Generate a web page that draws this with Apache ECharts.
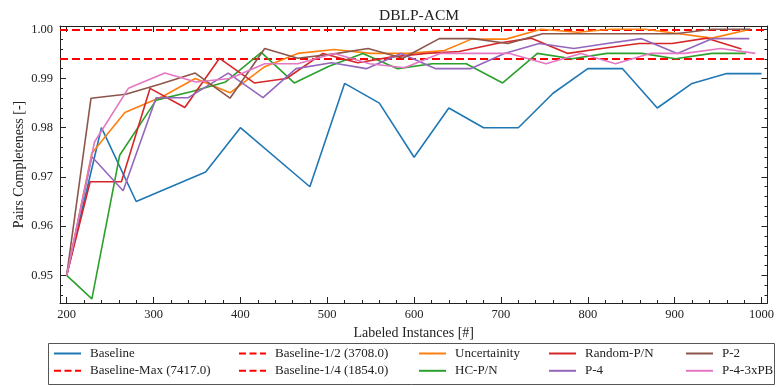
<!DOCTYPE html>
<html>
<head>
<meta charset="utf-8">
<script src="https://cdn.jsdelivr.net/npm/echarts@6/dist/echarts.min.js"></script>
<style>
  html, body { margin: 0; padding: 0; background: #fff; }
  #chart { width: 777px; height: 387px; }
</style>
</head>
<body>
<div id="chart"></div>
<script>
// ---- data ----
var baseX = [200, 240, 280, 360, 400, 480, 520, 560, 600, 640, 680, 720, 760, 800, 840, 880, 920, 960, 1000];
var baseY = [0.950, 0.980, 0.965, 0.971, 0.980, 0.968, 0.989, 0.985, 0.974, 0.984, 0.980, 0.980, 0.987, 0.992, 0.992, 0.984, 0.989, 0.991, 0.991];

var uncX = [200, 229, 267, 311, 348, 388, 428, 466, 508, 550, 593, 635, 666, 706, 746, 788, 826, 866, 905, 943, 987];
var uncY = [0.950, 0.9748, 0.9831, 0.9864, 0.990, 0.9871, 0.9924, 0.9951, 0.9959, 0.9951, 0.9951, 0.9957, 0.998, 0.998, 1.000, 0.9994, 1.000, 1.000, 0.9991, 0.9982, 1.000];

var hcX = [200, 229, 261, 303, 343, 383, 424, 462, 502, 541, 581, 621, 660, 702, 742, 782, 822, 862, 901, 943, 982];
var hcY = [0.950, 0.9452, 0.9744, 0.9856, 0.9873, 0.9893, 0.9953, 0.9891, 0.9925, 0.9951, 0.992, 0.993, 0.993, 0.9891, 0.9951, 0.994, 0.9951, 0.9951, 0.994, 0.9951, 0.9951];

var rndX = [200, 227, 263, 296, 336, 376, 416, 453, 495, 535, 575, 614, 652, 698, 735, 777, 816, 859, 897, 937, 977];
var rndY = [0.950, 0.969, 0.969, 0.988, 0.9841, 0.9941, 0.9891, 0.990, 0.9951, 0.9932, 0.9944, 0.9951, 0.9955, 0.9972, 0.9982, 0.9951, 0.9961, 0.9971, 0.9971, 0.9982, 0.996];

var p4X = [200, 229, 265, 303, 340, 386, 426, 464, 505, 545, 585, 625, 665, 704, 744, 784, 822, 862, 903, 943, 986];
var p4Y = [0.950, 0.9741, 0.9672, 0.9861, 0.9861, 0.9911, 0.9861, 0.992, 0.9932, 0.992, 0.9951, 0.992, 0.992, 0.9951, 0.9971, 0.9961, 0.9971, 0.9981, 0.9951, 0.9981, 0.9981];

var p2X = [200, 228, 268, 308, 348, 388, 428, 466, 508, 547, 587, 629, 668, 708, 748, 901, 943, 987];
var p2Y = [0.950, 0.986, 0.9868, 0.9889, 0.9911, 0.986, 0.9961, 0.9941, 0.995, 0.9961, 0.9941, 0.9981, 0.9981, 0.9971, 0.9991, 0.9991, 1.000, 1.000];

var pbX = [200, 232, 271, 313, 349, 388, 428, 466, 508, 549, 589, 630, 670, 710, 752, 792, 832, 872, 912, 953, 993];
var pbY = [0.950, 0.9771, 0.988, 0.9911, 0.9893, 0.990, 0.993, 0.993, 0.9951, 0.993, 0.9922, 0.9951, 0.9951, 0.9951, 0.993, 0.9951, 0.993, 0.9951, 0.9951, 0.9961, 0.9951];

// horizontal reference levels
var baseMax = 1.000;
var baseHalf = 1.000;
var baseQuarter = 0.994;

// ticks
var xMajor = [200, 300, 400, 500, 600, 700, 800, 900, 1000];
var yMajor = [0.95, 0.96, 0.97, 0.98, 0.99, 1.00];
var xMinor = [];
for (var v = 200; v <= 1000; v += 20) xMinor.push(v);
var yMinor = [];
for (var k = 473; k <= 500; k++) yMinor.push(k / 500);

var FONT = 'Liberation Serif';
var INK = '#222';

function curve(name, xs, ys, color) {
    return {
        name: name,
        type: 'line',
        xAxisIndex: 0,
        yAxisIndex: 0,
        data: xs.map(function (x, i) { return [x, ys[i]]; }),
        symbol: 'none',
        lineStyle: { color: color, width: 1.6 },
        itemStyle: { color: color }
    };
}

function level(name, val) {
    return {
        name: name,
        type: 'line',
        xAxisIndex: 0,
        yAxisIndex: 0,
        data: [],
        symbol: 'none',
        lineStyle: { color: '#ff0000', width: 2, type: [7, 3.5] },
        itemStyle: { color: '#ff0000' },
        markLine: {
            silent: true,
            z: 1,
            precision: 4,
            symbol: 'none',
            label: { show: false },
            lineStyle: { color: '#ff0000', width: 2, type: [8, 4] },
            data: [{ yAxis: val }]
        }
    };
}

function xAx(pos, ticks, len, line, labels) {
    return {
        type: 'value', position: pos, min: 192.3, max: 1006.9,
        splitLine: { show: false },
        axisLine: { show: line, lineStyle: { color: INK, width: 1 } },
        axisTick: { show: true, inside: true, length: len, customValues: ticks, lineStyle: { color: INK, width: 1 } },
        axisLabel: labels ? {
            customValues: xMajor, margin: 5, fontFamily: FONT, fontSize: 12.5, color: INK,
            formatter: function (val) { return String(val); }
        } : { show: false }
    };
}

function yAx(pos, ticks, len, line, labels) {
    return {
        type: 'value', position: pos, min: 0.94437, max: 1.00067,
        splitLine: { show: false },
        axisLine: { show: line, lineStyle: { color: INK, width: 1 } },
        axisTick: { show: true, inside: true, length: len, customValues: ticks, lineStyle: { color: INK, width: 1 } },
        axisLabel: labels ? {
            customValues: yMajor, margin: 7, fontFamily: FONT, fontSize: 12.5, color: INK,
            formatter: function (val) { return val.toFixed(2); }
        } : { show: false }
    };
}

var legendCols = [
    ['Baseline', 'Baseline-Max (7417.0)'],
    ['Baseline-1/2 (3708.0)', 'Baseline-1/4 (1854.0)'],
    ['Uncertainity', 'HC-P/N'],
    ['Random-P/N', 'P-4'],
    ['P-2', 'P-4-3xPB']
];
var legendLeft = [53, 238, 418, 548, 685];

var chart = echarts.init(document.getElementById('chart'));

var bottomX = xAx('bottom', xMajor, 6, true, true);
bottomX.name = 'Labeled Instances [#]';
bottomX.nameLocation = 'middle';
bottomX.nameGap = 21;
bottomX.nameTextStyle = { fontFamily: FONT, fontSize: 14, color: INK };

var leftY = yAx('left', yMajor, 6, true, true);
leftY.name = 'Pairs Completeness [-]';
leftY.nameLocation = 'middle';
leftY.nameGap = 34;
leftY.nameMoveOverlap = false;
leftY.nameTextStyle = { fontFamily: FONT, fontSize: 14, color: INK };

var option = {
    animation: false,
    backgroundColor: '#fff',
    title: {
        text: 'DBLP-ACM',
        left: 374,
        top: 3,
        textStyle: { fontFamily: FONT, fontSize: 15.5, fontWeight: 'normal', color: INK }
    },
    grid: { left: 60, right: 8, top: 26, height: 277 },
    legend: legendCols.map(function (col, i) {
        return {
            data: col,
            orient: 'vertical',
            left: legendLeft[i],
            top: 347,
            padding: 0,
            itemWidth: 27,
            itemHeight: 14,
            itemGap: 4.3,
            selectedMode: false,
            itemStyle: { opacity: 0 },
            textStyle: { fontFamily: FONT, fontSize: 13, color: INK, padding: [0, 0, 0, 4] }
        };
    }),
    graphic: [{
        type: 'rect',
        shape: { x: 48.5, y: 343.5, width: 726, height: 41 },
        style: { fill: 'none', stroke: '#555', lineWidth: 1 }
    }],
    xAxis: [
        bottomX,
        xAx('bottom', xMinor, 3, false, false),
        xAx('top', xMajor, 6, true, false),
        xAx('top', xMinor, 3, false, false)
    ],
    yAxis: [
        leftY,
        yAx('left', yMinor, 3, false, false),
        yAx('right', yMajor, 6, true, false),
        yAx('right', yMinor, 3, false, false)
    ],
    series: [
        curve('Baseline', baseX, baseY, '#1f77b4'),
        level('Baseline-Max (7417.0)', baseMax),
        level('Baseline-1/2 (3708.0)', baseHalf),
        level('Baseline-1/4 (1854.0)', baseQuarter),
        curve('Uncertainity', uncX, uncY, '#ff7f0e'),
        curve('HC-P/N', hcX, hcY, '#2ca02c'),
        curve('Random-P/N', rndX, rndY, '#d62728'),
        curve('P-4', p4X, p4Y, '#9467bd'),
        curve('P-2', p2X, p2Y, '#8c564b'),
        curve('P-4-3xPB', pbX, pbY, '#e377c2')
    ]
};

chart.setOption(option);
</script>
</body>
</html>
